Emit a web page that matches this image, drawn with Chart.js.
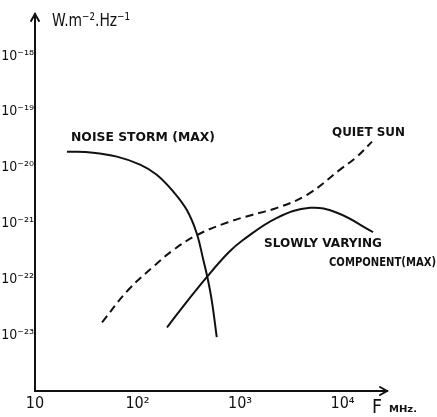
<!DOCTYPE html>
<html><head><meta charset="utf-8">
<script src="https://cdn.jsdelivr.net/npm/chart.js@4/dist/chart.umd.min.js"></script>
<style>html,body{margin:0;padding:0;background:#fff;}canvas{display:block;}</style>
</head><body>
<canvas id="c" width="437" height="417"></canvas>
<script>
// ---- data (frequency in MHz, flux density in W.m-2.Hz-1) ----
const noiseFreq  = [20.5, 36.8, 63, 106, 154, 223, 302, 378, 439, 480, 530, 593];
const noisePower = [1.93e-20, 1.85e-20, 1.57e-20, 1.13e-20, 7.45e-21, 3.73e-21, 1.75e-21, 6.67e-22, 2.21e-22, 1.1e-22, 4.2e-23, 9.2e-24];

const quietFreq  = [45.1, 80.7, 148, 223, 380, 764, 1309, 2296, 4510, 9460, 13840, 19400];
const quietPower = [1.69e-23, 6.37e-23, 1.79e-22, 3.33e-22, 6.2e-22, 1.05e-21, 1.42e-21, 1.9e-21, 3.26e-21, 9.2e-21, 1.57e-20, 2.92e-20];

const slowFreq  = [194, 260, 476, 764, 1069, 2296, 4820, 8830, 19860];
const slowPower = [1.37e-23, 2.78e-23, 1.1e-22, 2.95e-22, 5.05e-22, 1.26e-21, 1.9e-21, 1.55e-21, 7.0e-22];

const xTickValues = [10, 100, 1000, 10000];
const yTickValues = [1e-18, 1e-19, 1e-20, 1e-21, 1e-22, 1e-23];
const xMin = 10, xMax = 27160;
const yMin = 1e-24, yMax = 5.62e-18;

const labels = {
  noise: 'NOISE STORM (MAX)',
  quiet: 'QUIET SUN',
  slow1: 'SLOWLY VARYING',
  slow2: 'COMPONENT(MAX)',
  yTitle: 'W.m\u207B\u00B2.Hz\u207B\u00B9',
  xTitle: 'F',
  xUnit: 'MHz.'
};

// ---- helpers ----
const SUP = {'-':'\u207B','0':'\u2070','1':'\u00B9','2':'\u00B2','3':'\u00B3','4':'\u2074','5':'\u2075','6':'\u2076','7':'\u2077','8':'\u2078','9':'\u2079'};
function sup(n){ return String(n).split('').map(c => SUP[c] || c).join(''); }
function pow10Label(v){
  const e = Math.round(Math.log10(v));
  return e === 1 ? '10' : '10' + sup(e);
}
function pts(xs, ys){ return xs.map((x, i) => ({x: x, y: ys[i]})); }

function fitText(ctx, str, x, y, w, font, baseline){
  ctx.save();
  ctx.font = font;
  ctx.textBaseline = baseline || 'middle';
  ctx.textAlign = 'left';
  const m = ctx.measureText(str).width;
  ctx.translate(x, y);
  ctx.scale(w / m, 1);
  ctx.fillText(str, 0, 0);
  ctx.restore();
}

const decor = {
  id: 'decor',
  afterDraw(chart){
    const ctx = chart.ctx, a = chart.chartArea;
    ctx.save();
    ctx.strokeStyle = '#111'; ctx.fillStyle = '#111'; ctx.lineWidth = 2;
    ctx.lineCap = 'round';
    // axis arrow heads
    ctx.beginPath();
    ctx.moveTo(a.left - 4, a.top + 7); ctx.lineTo(a.left, a.top); ctx.lineTo(a.left + 4, a.top + 7);
    ctx.stroke();
    ctx.beginPath();
    ctx.moveTo(a.right - 7, a.bottom - 4); ctx.lineTo(a.right, a.bottom); ctx.lineTo(a.right - 7, a.bottom + 4);
    ctx.stroke();
    // curve labels
    const lf = 'bold 13px "DejaVu Sans"';
    fitText(ctx, labels.noise, 71, 138, 144, lf);
    fitText(ctx, labels.quiet, 332, 133, 73, lf);
    fitText(ctx, labels.slow1, 264, 244, 118, lf);
    fitText(ctx, labels.slow2, 329, 263, 107, lf);
    // axis titles
    fitText(ctx, labels.yTitle, 52, 26, 78, '18px "DejaVu Sans"', 'alphabetic');
    fitText(ctx, labels.xTitle, 372, 413, 10, '19px "DejaVu Sans"', 'alphabetic');
    fitText(ctx, labels.xUnit, 389, 412, 28, 'bold 8px "DejaVu Sans"', 'alphabetic');
    ctx.restore();
  }
};

const lineStyle = {borderColor: '#111', borderWidth: 2, pointRadius: 0, fill: false, tension: 0.4};

new Chart(document.getElementById('c'), {
  type: 'line',
  data: {
    datasets: [
      Object.assign({label: labels.noise, data: pts(noiseFreq, noisePower)}, lineStyle),
      Object.assign({label: labels.quiet, data: pts(quietFreq, quietPower), borderDash: [8, 5]}, lineStyle),
      Object.assign({label: labels.slow1 + ' ' + labels.slow2, data: pts(slowFreq, slowPower)}, lineStyle)
    ]
  },
  options: {
    responsive: false,
    animation: false,
    devicePixelRatio: 1,
    layout: {padding: {left: 0, right: 50, top: 14, bottom: 0}},
    plugins: {legend: {display: false}, tooltip: {enabled: false}},
    scales: {
      x: {
        type: 'logarithmic', min: xMin, max: xMax,
        afterBuildTicks: s => { s.ticks = xTickValues.map(v => ({value: v, major: true})); },
        afterFit: s => { s.height = 26; },
        grid: {display: false, drawTicks: false},
        border: {display: true, color: '#111', width: 2},
        ticks: {callback: v => pow10Label(v), color: '#111', padding: 3, maxRotation: 0, autoSkip: false,
                font: {family: '"DejaVu Sans Condensed", "Liberation Sans Narrow", "DejaVu Sans", sans-serif', size: 16}}
      },
      y: {
        type: 'logarithmic', min: yMin, max: yMax,
        afterBuildTicks: s => { s.ticks = yTickValues.map(v => ({value: v, major: true})); },
        afterFit: s => { s.width = 35; },
        grid: {display: false, drawTicks: false},
        border: {display: true, color: '#111', width: 2},
        ticks: {callback: v => pow10Label(v), color: '#111', padding: 1, autoSkip: false,
                font: {family: '"DejaVu Sans Condensed", "Liberation Sans Narrow", "DejaVu Sans", sans-serif', size: 14}}
      }
    }
  },
  plugins: [decor]
});
</script>
</body></html>
